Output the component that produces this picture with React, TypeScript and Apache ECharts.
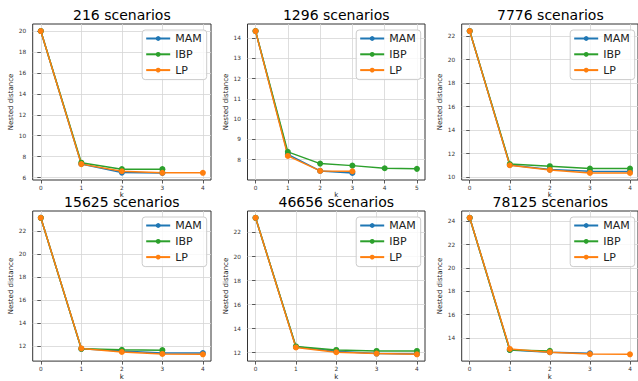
import React, { useEffect, useRef } from 'react';
import * as echarts from 'echarts';

const seriesNames = ['MAM', 'IBP', 'LP'];
const seriesColors = ['#1f77b4', '#2ca02c', '#ff7f0e'];
const titles = ['216 scenarios', '1296 scenarios', '7776 scenarios', '15625 scenarios', '46656 scenarios', '78125 scenarios'];

// 216 scenarios
const mam216 = [20.0, 7.3, 6.47, 6.44];
const ibp216 = [20.0, 7.42, 6.8, 6.8];
const lp216 = [20.0, 7.28, 6.6, 6.45, 6.45];
const yTicks216 = [6, 8, 10, 12, 14, 16, 18, 20];

// 1296 scenarios
const mam1296 = [14.35, 8.26, 7.44, 7.34];
const ibp1296 = [14.35, 8.38, 7.8, 7.7, 7.57, 7.54];
const lp1296 = [14.35, 8.18, 7.44, 7.42];
const yTicks1296 = [8, 9, 10, 11, 12, 13, 14];

// 7776 scenarios
const mam7776 = [22.43, 11.05, 10.65, 10.52, 10.5];
const ibp7776 = [22.43, 11.12, 10.94, 10.74, 10.74];
const lp7776 = [22.43, 11.02, 10.62, 10.37, 10.37];
const yTicks7776 = [10, 12, 14, 16, 18, 20, 22];

// 15625 scenarios
const mam15625 = [23.19, 11.75, 11.55, 11.38, 11.38];
const ibp15625 = [23.19, 11.75, 11.66, 11.63];
const lp15625 = [23.19, 11.78, 11.47, 11.3, 11.27];
const yTicks15625 = [12, 14, 16, 18, 20, 22];

// 46656 scenarios
const mam46656 = [23.22, 12.48, 12.11, 11.92, 11.89];
const ibp46656 = [23.22, 12.51, 12.22, 12.14, 12.14];
const lp46656 = [23.22, 12.43, 12.03, 11.92, 11.86];
const yTicks46656 = [12, 14, 16, 18, 20, 22];

// 78125 scenarios
const mam78125 = [24.31, 12.97, 12.78, 12.69];
const ibp78125 = [24.31, 12.97, 12.89];
const lp78125 = [24.31, 13.06, 12.78, 12.62, 12.6];
const yTicks78125 = [14, 16, 18, 20, 22, 24];

const panelSeries = [
  [mam216, ibp216, lp216],
  [mam1296, ibp1296, lp1296],
  [mam7776, ibp7776, lp7776],
  [mam15625, ibp15625, lp15625],
  [mam46656, ibp46656, lp46656],
  [mam78125, ibp78125, lp78125],
];
const panelYTicks = [yTicks216, yTicks1296, yTicks7776, yTicks15625, yTicks46656, yTicks78125];

const W = 638;
const H = 381;
const FONT = 'DejaVu Sans';
const colLefts = [32.7, 247.5, 461.7];
const colWidths = [178.3, 177.5, 177.3];
const rowTops = [24, 211];
const rowHeights = [156, 154];

export default function App() {
  const ref = useRef<HTMLDivElement>(null);
  useEffect(() => {
    document.body.style.margin = '0';
    if (!ref.current) return;
    const chart = echarts.init(ref.current, null, { renderer: 'svg' });
    const grids: any[] = [];
    const xAxes: any[] = [];
    const yAxes: any[] = [];
    const series: any[] = [];
    const legends: any[] = [];
    const graphics: any[] = [];
    panelSeries.forEach((lists, i) => {
      const r = Math.floor(i / 3);
      const c = i % 3;
      const left = colLefts[c];
      const width = colWidths[c];
      const top = rowTops[r];
      const height = rowHeights[r];
      grids.push({ left, top, width, height, show: true, borderColor: '#333', borderWidth: 1, containLabel: false });
      const maxLen = Math.max(...lists.map((l) => l.length));
      const xTicks = Array.from({ length: maxLen }, (_, k) => k);
      const yTicks = panelYTicks[i];
      const yStep = yTicks[1] - yTicks[0];
      xAxes.push({
        type: 'value',
        gridIndex: i,
        min: (v: any) => v.min - 0.05 * (v.max - v.min),
        max: (v: any) => v.max + 0.05 * (v.max - v.min),
        minInterval: 1,
        maxInterval: 1,
        axisLine: { show: false },
        axisTick: { show: true, length: 3.5, customValues: xTicks, lineStyle: { color: '#333', width: 0.8 } },
        axisLabel: { customValues: xTicks, fontSize: 5.8, color: '#333', margin: 5, fontFamily: FONT },
        splitLine: { show: true, lineStyle: { color: '#d5d5d5', width: 0.8 } },
        name: 'k',
        nameLocation: 'middle',
        nameGap: 10.5,
        nameTextStyle: { fontSize: 7, color: '#222', fontFamily: FONT },
      });
      yAxes.push({
        type: 'value',
        gridIndex: i,
        min: (v: any) => v.min - 0.05 * (v.max - v.min),
        max: (v: any) => v.max + 0.05 * (v.max - v.min),
        minInterval: yStep,
        maxInterval: yStep,
        axisLine: { show: false },
        axisTick: { show: true, length: 3.5, customValues: yTicks, lineStyle: { color: '#333', width: 0.8 } },
        axisLabel: { customValues: yTicks, fontSize: 5.8, color: '#333', margin: 6.5, fontFamily: FONT },
        splitLine: { show: true, lineStyle: { color: '#d5d5d5', width: 0.8 } },
        name: 'Nested distance',
        nameLocation: 'middle',
        nameGap: 18,
        nameTextStyle: { fontSize: 7, color: '#222', fontFamily: FONT },
      });
      lists.forEach((vals, s) => {
        series.push({
          type: 'line',
          name: seriesNames[s],
          xAxisIndex: i,
          yAxisIndex: i,
          data: vals.map((v, k) => [k, v]),
          symbol: 'circle',
          symbolSize: 6,
          showSymbol: true,
          color: seriesColors[s],
          lineStyle: { width: 1.5, color: seriesColors[s] },
          itemStyle: { color: seriesColors[s] },
          emphasis: { disabled: true },
        });
      });
      legends.push({
        orient: 'vertical',
        right: W - (left + width - 4.3),
        top: top + 6,
        data: seriesNames,
        itemWidth: 24,
        itemHeight: 6,
        itemGap: 4.8,
        padding: [3, 5, 4, 3],
        backgroundColor: 'rgba(255,255,255,0.8)',
        borderColor: '#cccccc',
        borderWidth: 1,
        borderRadius: 3,
        textStyle: { fontSize: 11, color: '#222', fontFamily: FONT },
        selectedMode: false,
      });
      graphics.push({
        type: 'text',
        x: left + width / 2,
        y: top - 9.5,
        style: {
          text: titles[i],
          font: `14px "${FONT}"`,
          fill: '#000',
          textAlign: 'center',
          textVerticalAlign: 'middle',
        },
      });
    });
    chart.setOption({
      animation: false,
      backgroundColor: '#ffffff',
      grid: grids,
      xAxis: xAxes,
      yAxis: yAxes,
      series,
      legend: legends,
      graphic: graphics,
      tooltip: { show: false },
    });
    return () => chart.dispose();
  }, []);
  return <div ref={ref} style={{ width: W, height: H }} />;
}
